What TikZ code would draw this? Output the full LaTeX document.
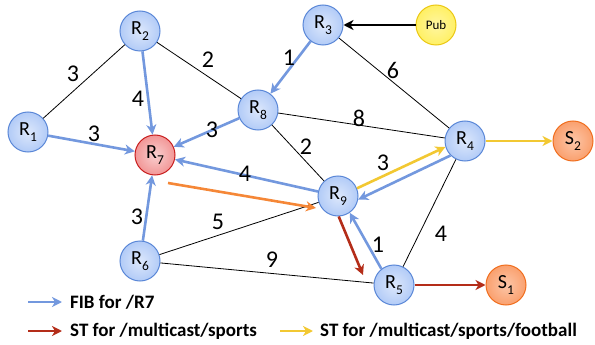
\documentclass[tikz,border=0pt]{standalone}
\usepackage{fontspec}
\setmainfont{Carlito}
\usetikzlibrary{arrows.meta}
\definecolor{nbfill}{RGB}{178,203,247}
\definecolor{nbdraw}{RGB}{90,135,215}
\definecolor{nrfill}{RGB}{242,150,150}
\definecolor{nrdraw}{RGB}{200,30,30}
\definecolor{nyfill}{RGB}{255,240,100}
\definecolor{nydraw}{RGB}{235,200,20}
\definecolor{nofill}{RGB}{250,160,110}
\definecolor{nodraw}{RGB}{240,110,30}
\definecolor{fibblue}{RGB}{115,152,222}
\definecolor{stred}{RGB}{180,45,25}
\definecolor{styel}{RGB}{242,200,50}
\definecolor{storange}{RGB}{245,135,55}
\newcommand{\nsub}[1]{\raisebox{-0.3em}{\fontsize{13.5}{13.5}\selectfont #1}}
\tikzset{
  rnode/.style={circle, minimum size=40pt, inner sep=0pt, line width=1pt, draw=nbdraw, inner color=nbfill!45, outer color=nbfill, font=\fontsize{20}{20}\selectfont},
  rednode/.style={rnode, draw=nrdraw, inner color=nrfill!45, outer color=nrfill},
  pubnode/.style={rnode, draw=nydraw, inner color=nyfill!60, outer color=nyfill, font=\fontsize{13}{13}\selectfont},
  snode/.style={rnode, draw=nodraw, inner color=nofill!60, outer color=nofill},
  link/.style={draw=black, line width=0.8pt},
  fib/.style={draw=fibblue, line width=2.6pt, -{Stealth[length=10pt,width=10pt,inset=3pt]}},
  stsp/.style={draw=stred, line width=2.6pt, -{Stealth[length=10pt,width=10pt,inset=3pt]}},
  stfb/.style={draw=styel, line width=2.6pt, -{Stealth[length=10pt,width=10pt,inset=3pt]}},
  stor/.style={draw=storange, line width=2.6pt, -{Stealth[length=10pt,width=10pt,inset=3pt]}},
  pubarrow/.style={draw=black, line width=1.8pt, -{Stealth[length=10pt,width=10pt,inset=3pt]}},
  wlabel/.style={font=\fontsize{24}{24}\selectfont, inner sep=0pt},
  legtext/.style={font=\fontsize{19}{19}\selectfont\bfseries, anchor=west, inner sep=0pt}
}
\begin{document}
\begin{tikzpicture}[x=1pt,y=-1pt]
\useasboundingbox (0,0) rectangle (595,345);
% routers
\node[rnode] (R2) at (140,31) {R\nsub{2}};
\node[rnode] (R1) at (28,132) {R\nsub{1}};
\node[rednode] (R7) at (155,155) {R\nsub{7}};
\node[rnode] (R8) at (258,110) {R\nsub{8}};
\node[rnode] (R3) at (323,25) {R\nsub{3}};
\node[pubnode] (Pub) at (436,25) {Pub};
\node[rnode] (R4) at (465,141) {R\nsub{4}};
\node[snode] (S2) at (573,141) {S\nsub{2}};
\node[rnode] (R9) at (338,196) {R\nsub{9}};
\node[rnode] (R6) at (140,261) {R\nsub{6}};
\node[rnode] (R5) at (394,285) {R\nsub{5}};
\node[snode] (S1) at (506,285) {S\nsub{1}};
% black links
\draw[link] (R1) -- (R2);
\draw[link] (R2) -- (R8);
\draw[link] (R3) -- (R4);
\draw[link] (R8) -- (R4);
\draw[link] (R8) -- (R9);
\draw[link] (R6) -- (R9);
\draw[link] (R6) -- (R5);
\draw[link] (R5) -- (R4);
% FIB arrows
\draw[fib] (R2) -- (R7);
\draw[fib] (R1) -- (R7);
\draw[fib] (R8) -- (R7);
\draw[fib] (R3) -- (R8);
\draw[fib] (R9) -- (R7);
\draw[fib] (R6) -- (R7);
\draw[fib] (R4.225) -- (R9.350);
\draw[fib] (R5.128) -- (R9.305);
% ST arrows
\coordinate (orS) at (168,183);
\coordinate (orE) at (316,208);
\draw[stor] (orS) -- (orE);
\coordinate (redE) at (363,275);
\draw[stsp] (R9.272) -- (redE);
\draw[stsp] (R5) -- (S1);
\draw[stfb] (R9.22) -- (R4.197);
\draw[stfb] (R4) -- (S2);
\draw[pubarrow] (Pub) -- (R3);
% weights
\node[wlabel] at (73,74) {3};
\node[wlabel] at (138,99) {4};
\node[wlabel] at (208,60) {2};
\node[wlabel] at (94,134) {3};
\node[wlabel] at (212,130) {3};
\node[wlabel] at (289,58) {1};
\node[wlabel] at (393,70) {6};
\node[wlabel] at (359,118) {8};
\node[wlabel] at (306,147) {2};
\node[wlabel] at (245,174) {4};
\node[wlabel] at (383,163) {3};
\node[wlabel] at (137,217) {3};
\node[wlabel] at (218,222) {5};
\node[wlabel] at (272,260) {9};
\node[wlabel] at (378,245) {1};
\node[wlabel] at (441,234) {4};
% legend
\coordinate (l1a) at (28,302); \coordinate (l1b) at (62,302);
\coordinate (l2a) at (28,331); \coordinate (l2b) at (62,331);
\coordinate (l3a) at (280,331); \coordinate (l3b) at (313,331);
\draw[fib] (l1a) -- (l1b);
\draw[stsp] (l2a) -- (l2b);
\draw[stfb] (l3a) -- (l3b);
\node[legtext] (t1) at (70,302) {FIB for /R7};
\node[legtext] (t2) at (70,331) {ST for /multicast/sports};
\node[legtext] (t3) at (320,331) {ST for /multicast/sports/football};
\end{tikzpicture}
\end{document}
